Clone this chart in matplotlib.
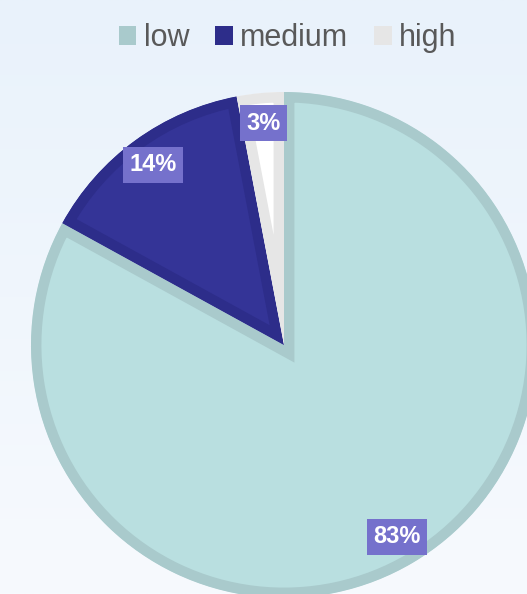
import matplotlib.pyplot as plt
import numpy as np
from matplotlib.patches import Patch

categories = ['low', 'medium', 'high']
values = [83, 14, 3]
fill_colors = ['#b9dfe0', '#343497', '#ffffff']
edge_colors = ['#a9cacc', '#2d2d8a', '#e6e6e6']

plt.rcParams['font.family'] = ['Liberation Sans', 'DejaVu Sans']

W, H = 527, 594
fig = plt.figure(figsize=(W / 100, H / 100), dpi=100)

# background gradient
bg = fig.add_axes([0, 0, 1, 1])
grad = np.linspace(0, 1, 256).reshape(-1, 1)
top = np.array([233, 242, 251]) / 255
bot = np.array([247, 250, 254]) / 255
img = top + (bot - top) * grad[:, :, None]
bg.imshow(img, aspect='auto', extent=[0, 1, 0, 1])
bg.axis('off')

# pie axes: center at (284, 345) px, radius 253 px
cx, cy, r = 284, 345, 253
ax = fig.add_axes([0, 0, 1, 1])
ax.axis('off')

wedges, texts, autotexts = ax.pie(values, colors=fill_colors, startangle=90,
                                  counterclock=False, radius=1,
                                  autopct='%d%%', pctdistance=0.88,
                                  textprops=dict(color='white', fontsize=17, fontweight='bold'))
ax.set_aspect('auto')
ax.set_xlim(-cx / r, (W - cx) / r)
ax.set_ylim(-(H - cy) / r, cy / r)

# inner stroke: thick edge clipped to the wedge itself
for w, ec in zip(wedges, edge_colors):
    w.set_edgecolor(ec)
    w.set_linewidth(15)
    w.set_clip_path(w)
    w.set_clip_on(True)

for t in autotexts:
    t.set_bbox(dict(boxstyle='square,pad=0.27', facecolor='#7571cc', edgecolor='none'))

handles = [Patch(facecolor=c, edgecolor='none') for c in edge_colors]
fig.legend(handles, categories, loc='center', bbox_to_anchor=(0.546, 0.936), ncol=3,
           frameon=False, fontsize=22, labelcolor='#595959',
           handlelength=0.57, handleheight=0.57, handletextpad=0.25, columnspacing=0.85)

fig.savefig('out.png', dpi=100)
